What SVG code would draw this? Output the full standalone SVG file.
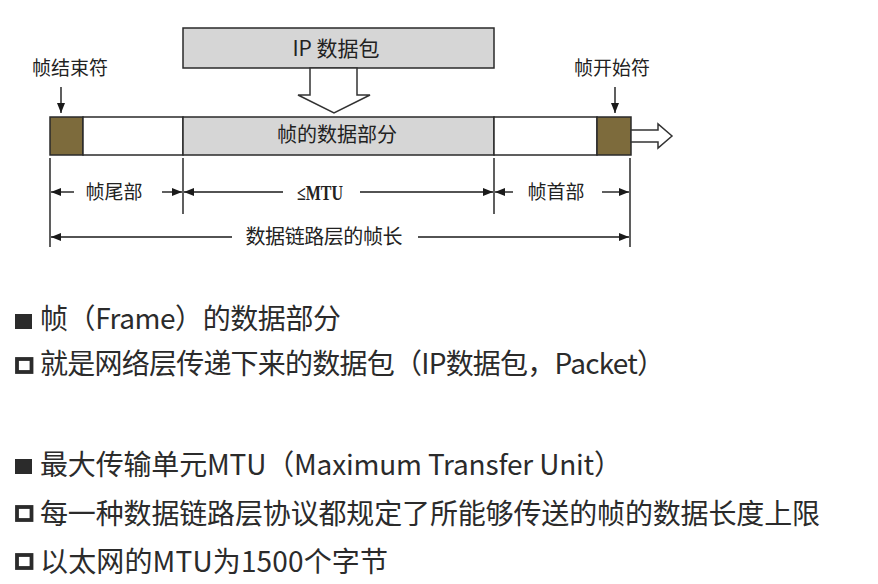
<svg xmlns="http://www.w3.org/2000/svg" width="878" height="584" viewBox="0 0 878 584">
<defs>
<marker id="ah" markerUnits="userSpaceOnUse" markerWidth="11" markerHeight="9" refX="10" refY="4" orient="auto">
<path d="M0,0 L10,4 L0,8 Z" fill="#1a1a1a"/>
</marker>
<style>
.lbl{font-family:"Noto Sans CJK SC","Noto Sans",sans-serif;font-size:19px;fill:#222;text-anchor:middle}
.box{stroke:#2a2a2a;stroke-width:1.5}
.dim{stroke:#1a1a1a;stroke-width:1.4;fill:none}
.arr{stroke:#1a1a1a;stroke-width:1.4;fill:none;marker-end:url(#ah)}
.hollow{fill:#ffffff;stroke:#333;stroke-width:1.5}
.body{font-family:"Noto Sans CJK SC","Noto Sans",sans-serif;font-size:28px;fill:#2b2b2b}
.bf{fill:#2b2b2b}
.bh{fill:none;stroke:#2b2b2b;stroke-width:3.8}
</style>
</defs>
<rect width="878" height="584" fill="#ffffff"/>

<g id="ip-packet">
<rect class="box" x="183" y="28" width="311" height="40" fill="#d6d6d6"/>
<text class="lbl" x="336" y="56" style="font-size:21px">IP 数据包</text>
</g>

<g id="down-arrow">
<polygon class="hollow" points="310,68 357,68 357,95 370,95 334,113 298,95 310,95"/>
</g>

<g id="frame">
<rect class="box" x="50" y="117" width="33" height="38" fill="#7d6b3c"/>
<rect class="box" x="83" y="117" width="100" height="38" fill="#ffffff"/>
<rect class="box" x="183" y="117" width="311" height="38" fill="#d6d6d6"/>
<rect class="box" x="494" y="117" width="103" height="38" fill="#ffffff"/>
<rect class="box" x="597" y="117" width="34" height="38" fill="#7d6b3c"/>
<text class="lbl" x="337" y="142" style="font-size:20px">帧的数据部分</text>
</g>

<g id="right-arrow">
<polygon class="hollow" points="631,130 658,130 658,124 672,136 658,148 658,142 631,142"/>
</g>

<g id="end-flag">
<text class="lbl" x="70" y="75">帧结束符</text>
</g>
<g id="start-flag">
<text class="lbl" x="612" y="75">帧开始符</text>
</g>

<g id="dim-labels">
<text class="lbl" x="114" y="199">帧尾部</text>
<text x="297" y="200" textLength="46" lengthAdjust="spacingAndGlyphs" style="font-family:'Liberation Serif',serif;font-size:20px;font-weight:bold;fill:#222">≤MTU</text>
<text class="lbl" x="556" y="199">帧首部</text>
<text class="lbl" x="324" y="244" textLength="157" style="font-size:20px">数据链路层的帧长</text>
</g>

<g id="connectors">
<line class="arr" x1="61" y1="87" x2="61" y2="113"/>
<line class="arr" x1="615" y1="87" x2="615" y2="113"/>
<line class="dim" x1="50" y1="158" x2="50" y2="247"/>
<line class="dim" x1="183" y1="158" x2="183" y2="214"/>
<line class="dim" x1="494" y1="158" x2="494" y2="214"/>
<line class="dim" x1="630" y1="158" x2="630" y2="247"/>
<line class="arr" x1="74" y1="192" x2="51" y2="192"/>
<line class="arr" x1="162" y1="192" x2="182" y2="192"/>
<line class="arr" x1="283" y1="192" x2="184" y2="192"/>
<line class="arr" x1="360" y1="192" x2="493" y2="192"/>
<line class="arr" x1="513" y1="192" x2="495" y2="192"/>
<line class="arr" x1="602" y1="192" x2="629" y2="192"/>
<line class="arr" x1="232" y1="237" x2="51" y2="237"/>
<line class="arr" x1="418" y1="237" x2="629" y2="237"/>
</g>

<g id="bullets">
<rect class="bf" x="15" y="314" width="17" height="15"/>
<rect class="bh" x="17" y="359" width="14.5" height="13"/>
<rect class="bf" x="15" y="459" width="17" height="15"/>
<rect class="bh" x="17" y="507" width="14.5" height="13"/>
<rect class="bh" x="17" y="555" width="14.5" height="13"/>
</g>

<g id="body-text">
<text class="body" x="40" y="329" textLength="301">帧（Frame）的数据部分</text>
<text class="body" x="40" y="374" textLength="625">就是网络层传递下来的数据包（IP数据包，Packet）</text>
<text class="body" x="40" y="475" textLength="582">最大传输单元MTU（Maximum Transfer Unit）</text>
<text class="body" x="40" y="524" textLength="780">每一种数据链路层协议都规定了所能够传送的帧的数据长度上限</text>
<text class="body" x="40" y="572" textLength="348">以太网的MTU为1500个字节</text>
</g>
</svg>
